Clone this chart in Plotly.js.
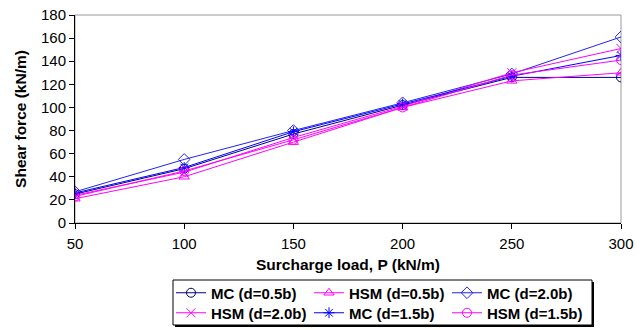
<!DOCTYPE html>
<html>
<head>
<meta charset="utf-8">
<script src="https://cdn.plot.ly/plotly-3.0.1.min.js"></script>
<style>html,body{margin:0;padding:0;background:#fff}#chart{width:644px;height:330px}</style>
</head>
<body>
<div id="chart"></div>
<script>
const loads = [50, 100, 150, 200, 250, 300];
const seriesNames = ["MC (d=0.5b)", "HSM (d=0.5b)", "MC (d=2.0b)", "HSM (d=2.0b)", "MC (d=1.5b)", "HSM (d=1.5b)"];
const mc05  = [25, 47, 77, 102, 126, 126];
const hsm05 = [21, 40, 70, 100, 123, 130];
const mc20  = [27, 55, 80, 104, 129, 161];
const hsm20 = [24, 44, 74, 101, 130, 151];
const mc15  = [26, 48, 79, 103, 127, 145];
const hsm15 = [23, 45, 72, 100, 128, 141];

const values = [mc05, hsm05, mc20, hsm20, mc15, hsm15];
const colors = ["#000080", "#FF00FF", "#2222EE", "#FF00FF", "#0000FF", "#FF00FF"];
const symbols = ["circle-open", "triangle-up-open", "diamond-open", "x-thin-open", "asterisk-open", "circle-open"];

const traces = values.map((v, i) => ({
  x: loads, y: v, name: seriesNames[i], type: "scatter", mode: "lines+markers",
  legend: i < 3 ? "legend" : "legend2",
  line: {color: colors[i], width: 1},
  marker: {symbol: symbols[i], size: 9, color: colors[i], line: {color: colors[i], width: 1}}
}));

const W = 644, H = 330, ML = 75, MR = 23, MT = 15, MB = 107;
const PW = W - ML - MR, PH = H - MT - MB;
const px = v => (v - ML) / PW;          // container px -> paper x
const py = v => (H - MB - v) / PH;      // container px -> paper y

const font = {family: "Liberation Sans, Arial, sans-serif", color: "#000"};
const legendBase = {
  orientation: "h", xref: "container", yref: "container",
  x: 171 / W, xanchor: "left", yanchor: "middle",
  borderwidth: 0, bgcolor: "rgba(0,0,0,0)",
  font: Object.assign({size: 15, weight: "bold"}, font),
  entrywidth: 93, tracegroupgap: 0, itemwidth: 30
};
const layout = {
  width: W, height: H,
  margin: {l: ML, r: MR, t: MT, b: MB},
  paper_bgcolor: "#fff", plot_bgcolor: "#fff",
  font: Object.assign({size: 15}, font),
  showlegend: true,
  xaxis: {
    range: [50, 300], tickvals: loads, ticks: "outside", ticklen: 5, tickcolor: "#000",
    showline: true, linecolor: "#000", linewidth: 1, showgrid: false, zeroline: false,
    ticklabelstandoff: 2,
    tickfont: Object.assign({size: 15}, font),
    title: {text: "<b>Surcharge load, P (kN/m)</b>", font: Object.assign({size: 15.5}, font), standoff: 8}
  },
  yaxis: {
    range: [0, 180], dtick: 20, ticks: "outside", ticklen: 5, tickcolor: "#000",
    showline: true, linecolor: "#000", linewidth: 1, showgrid: false, zeroline: false,
    tickfont: Object.assign({size: 15}, font),
    title: {text: "<b>Shear force (kN/m)</b>", font: Object.assign({size: 15.5}, font), standoff: 10}
  },
  shapes: [
    {type: "rect", xref: "paper", yref: "paper", x0: 0, x1: 1, y0: 0, y1: 1,
     line: {color: "#999", width: 1}, layer: "below"},
    {type: "rect", xref: "paper", yref: "paper", x0: px(175), x1: px(594), y0: py(282), y1: py(327),
     line: {width: 0}, fillcolor: "#000", layer: "above"},
    {type: "rect", xref: "paper", yref: "paper", x0: px(173), x1: px(592), y0: py(280), y1: py(325),
     line: {color: "#000", width: 1}, fillcolor: "#fff", layer: "above"}
  ],
  legend: Object.assign({}, legendBase, {y: (H - 293) / H}),
  legend2: Object.assign({}, legendBase, {y: (H - 313) / H})
};
Plotly.newPlot("chart", traces, layout, {staticPlot: true});
</script>
</body>
</html>
